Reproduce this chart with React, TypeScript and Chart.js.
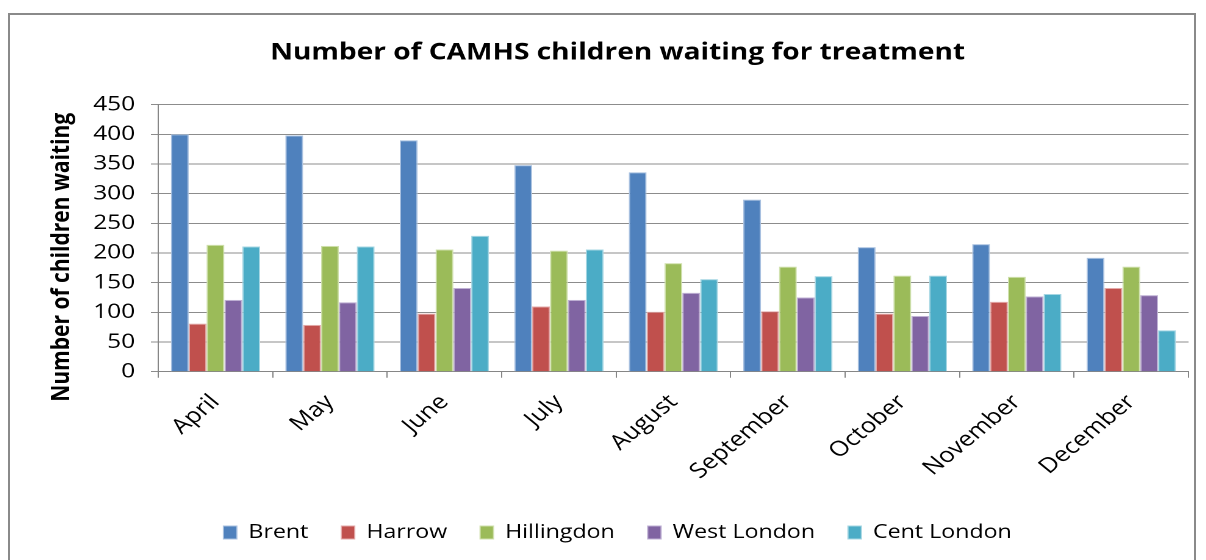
import React, { useEffect, useRef } from "react";
import { Chart, registerables } from "chart.js";

Chart.register(...registerables);

const months = ["April", "May", "June", "July", "August", "September", "October", "November", "December"];
const brent = [400, 398, 390, 348, 336, 290, 210, 215, 192];
const harrow = [81, 79, 98, 110, 101, 102, 98, 118, 141];
const hillingdon = [214, 212, 206, 204, 183, 177, 162, 160, 177];
const westLondon = [121, 117, 141, 121, 133, 125, 94, 127, 129];
const centLondon = [211, 211, 229, 206, 156, 161, 162, 131, 70];

const seriesNames = ["Brent", "Harrow", "Hillingdon", "West London", "Cent London"];
const seriesColors = ["#4f81bd", "#c0504d", "#9bbb59", "#8064a2", "#4bacc6"];
const borderColors = ["#a9c1e0", "#e3a9a8", "#cfe0ac", "#bfb1d4", "#a5d6e3"];

const STRETCH = 1.22;
const CANVAS_W = Math.round(1184 / STRETCH);

export default function App() {
  const ref = useRef<HTMLCanvasElement | null>(null);
  useEffect(() => {
    if (!ref.current) return;
    const data = [brent, harrow, hillingdon, westLondon, centLondon];
    const font = "'Open Sans', sans-serif";
    const chart = new Chart(ref.current, {
      type: "bar",
      data: {
        labels: months,
        datasets: data.map((d, i) => ({
          label: seriesNames[i],
          data: d,
          backgroundColor: seriesColors[i],
          borderColor: borderColors[i],
          borderWidth: 1,
          categoryPercentage: 0.78,
          barPercentage: 1,
        })),
      },
      options: {
        animation: false,
        responsive: false,
        maintainAspectRatio: false,
        devicePixelRatio: 2,
        layout: { padding: { left: 30, right: 4, top: 18, bottom: 8 } },
        plugins: {
          title: {
            display: true,
            text: "Number of CAMHS children waiting for treatment",
            color: "#000",
            font: { family: font, size: 23, weight: "bold" },
            padding: { top: 6, bottom: 38 },
          },
          legend: {
            position: "bottom",
            labels: {
              color: "#000",
              font: { family: font, size: 19 },
              boxWidth: 11,
              boxHeight: 13,
              padding: 27,
            },
          },
          tooltip: { enabled: false },
        },
        scales: {
          x: {
            grid: {
              offset: true,
              drawOnChartArea: false,
              drawTicks: true,
              tickLength: 6,
              color: "#868686",
            },
            border: { color: "#868686", width: 1 },
            ticks: {
              color: "#000",
              font: { family: font, size: 21 },
              minRotation: 45,
              maxRotation: 45,
              padding: 12,
            },
          },
          y: {
            min: 0,
            max: 450,
            ticks: {
              stepSize: 50,
              color: "#000",
              font: { family: font, size: 20 },
              padding: 13,
            },
            grid: { color: "#8c8c8c", tickLength: 6, lineWidth: 1 },
            border: { color: "#868686", width: 1 },
            title: {
              display: true,
              text: "Number of children waiting       ",
              color: "#000",
              font: { family: font, size: 21, weight: "bold" },
              padding: { top: 0, bottom: 0 },
            },
          },
        },
      },
    });
    return () => chart.destroy();
  }, []);

  return (
    <div style={{ position: "absolute", left: 0, top: 0, width: 1206, height: 560, overflow: "hidden", background: "#fff" }}>
      <div
        style={{
          position: "absolute",
          left: 8,
          top: 13,
          width: 1188,
          height: 560,
          border: "2px solid #8a8a8a",
          boxSizing: "border-box",
          overflow: "hidden",
        }}
      >
        <canvas
          ref={ref}
          width={CANVAS_W}
          height={545}
          style={{
            display: "block",
            width: CANVAS_W,
            height: 545,
            transform: `scaleX(${STRETCH})`,
            transformOrigin: "0 0",
          }}
        />
      </div>
    </div>
  );
}
